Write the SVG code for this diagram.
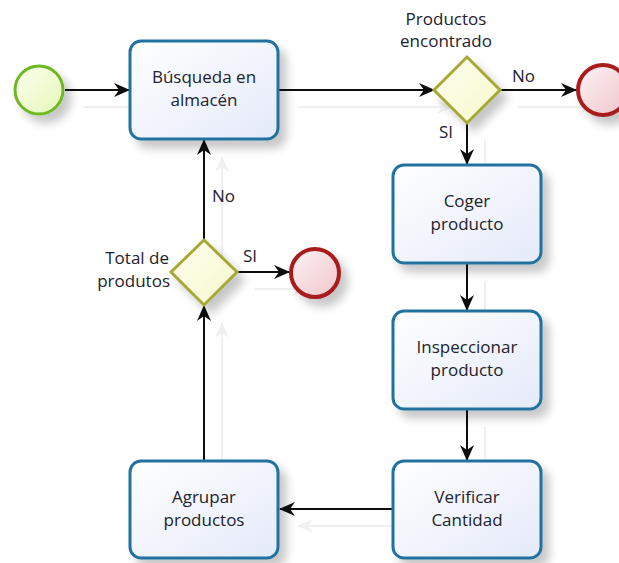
<svg xmlns="http://www.w3.org/2000/svg" width="619" height="563" viewBox="0 0 619 563">
  <defs>
    <style>
      .task rect { fill: url(#taskFill); stroke: #23729f; stroke-width: 3; }
      .gw polygon { fill: url(#gwFill); stroke: #a5a935; stroke-width: 3; }
      .start circle { fill: url(#startFill); stroke: #6fb824; stroke-width: 3; }
      .end circle { fill: url(#endFill); stroke: #a81a1f; stroke-width: 4; }
      text { font-family: "Open Sans", "Noto Sans", "DejaVu Sans", sans-serif; font-size: 17px; fill: #22222c; }
      .c { text-anchor: middle; }
      .r { text-anchor: end; }
      #connectors path { fill: none; stroke: #111; stroke-width: 2; marker-end: url(#arrow); }
    </style>
    <linearGradient id="taskFill" x1="0" y1="0" x2="1" y2="1">
      <stop offset="0" stop-color="#ffffff"/>
      <stop offset="1" stop-color="#e4eaf9"/>
    </linearGradient>
    <linearGradient id="gwFill" x1="0" y1="0" x2="1" y2="1">
      <stop offset="0" stop-color="#fffff2"/>
      <stop offset="1" stop-color="#f7f7cc"/>
    </linearGradient>
    <linearGradient id="startFill" x1="0" y1="0" x2="1" y2="1">
      <stop offset="0" stop-color="#fbfff0"/>
      <stop offset="1" stop-color="#e6f7b8"/>
    </linearGradient>
    <linearGradient id="endFill" x1="0" y1="0" x2="1" y2="1">
      <stop offset="0" stop-color="#fdf4f5"/>
      <stop offset="1" stop-color="#f0c4ca"/>
    </linearGradient>
    <filter id="nodeShadow" x="-30%" y="-30%" width="170%" height="170%">
      <feGaussianBlur in="SourceAlpha" stdDeviation="5"/>
      <feOffset dx="7" dy="8" result="b"/>
      <feComponentTransfer><feFuncA type="linear" slope="0.22"/></feComponentTransfer>
      <feMerge><feMergeNode/><feMergeNode in="SourceGraphic"/></feMerge>
    </filter>
    <filter id="lineShadow" x="-20%" y="-20%" width="140%" height="140%">
      <feOffset in="SourceAlpha" dx="18" dy="17"/>
      <feComponentTransfer><feFuncA type="linear" slope="0.06"/></feComponentTransfer>
      <feMerge><feMergeNode/><feMergeNode in="SourceGraphic"/></feMerge>
    </filter>
    <marker id="arrow" viewBox="0 0 16 14" markerWidth="16" markerHeight="14" refX="15" refY="7" orient="auto" markerUnits="userSpaceOnUse">
      <path d="M0,0 L16,7 L0,14 L5,7 Z" fill="#111"/>
    </marker>
  </defs>

  <rect width="619" height="563" fill="#ffffff"/>

  <!-- sequence flows -->
  <g id="connectors" filter="url(#lineShadow)">
    <path d="M65,90 H129"/>
    <path d="M279,90 H434"/>
    <path d="M500,90 H576"/>
    <path d="M467,123 V164"/>
    <path d="M467,264 V310"/>
    <path d="M467,410 V460"/>
    <path d="M392,509 H280"/>
    <path d="M204,460 V306"/>
    <path d="M204,239 V140"/>
    <path d="M237,272 H289"/>
  </g>

  <g id="start" class="start" filter="url(#nodeShadow)">
    <circle cx="39" cy="90" r="24"/>
  </g>

  <g id="busqueda" class="task">
    <rect x="130" y="41" width="148" height="98" rx="11" filter="url(#nodeShadow)"/>
    <text class="c" x="204" y="83">Búsqueda en</text>
    <text class="c" x="204" y="106">almacén</text>
  </g>

  <g id="gw-encontrado" class="gw">
    <polygon points="467,57 500,90 467,123 434,90" filter="url(#nodeShadow)"/>
    <text class="c" x="446" y="25">Productos</text>
    <text class="c" x="446" y="47">encontrado</text>
  </g>

  <g id="end-top" class="end" filter="url(#nodeShadow)">
    <circle cx="603" cy="90" r="25"/>
  </g>

  <g id="coger" class="task">
    <rect x="393" y="165" width="148" height="98" rx="11" filter="url(#nodeShadow)"/>
    <text class="c" x="467" y="207">Coger</text>
    <text class="c" x="467" y="230">producto</text>
  </g>

  <g id="inspeccionar" class="task">
    <rect x="393" y="311" width="148" height="98" rx="11" filter="url(#nodeShadow)"/>
    <text class="c" x="467" y="353">Inspeccionar</text>
    <text class="c" x="467" y="376">producto</text>
  </g>

  <g id="verificar" class="task">
    <rect x="393" y="461" width="148" height="97" rx="11" filter="url(#nodeShadow)"/>
    <text class="c" x="467" y="503">Verificar</text>
    <text class="c" x="467" y="526">Cantidad</text>
  </g>

  <g id="agrupar" class="task">
    <rect x="130" y="461" width="148" height="97" rx="11" filter="url(#nodeShadow)"/>
    <text class="c" x="204" y="503">Agrupar</text>
    <text class="c" x="204" y="526">productos</text>
  </g>

  <g id="gw-total" class="gw">
    <polygon points="204,240 237,272 204,305 171,272" filter="url(#nodeShadow)"/>
    <text class="r" x="169" y="264">Total de</text>
    <text class="r" x="170" y="287">produtos</text>
  </g>

  <g id="end-total" class="end" filter="url(#nodeShadow)">
    <circle cx="315" cy="273" r="24"/>
  </g>

  <!-- flow labels -->
  <g id="flow-labels">
    <text x="512" y="82">No</text>
    <text x="439" y="138">SI</text>
    <text x="212" y="202">No</text>
    <text x="243" y="262">SI</text>
  </g>
</svg>
